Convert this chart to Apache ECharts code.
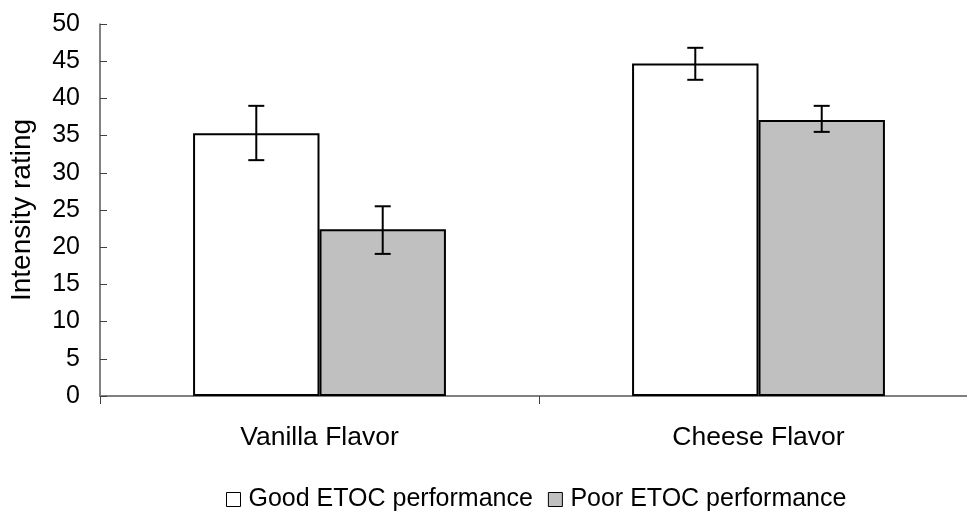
<!DOCTYPE html>
<html>
<head>
<meta charset="utf-8">
<script src="https://cdn.jsdelivr.net/npm/echarts@6/dist/echarts.min.js"></script>
<style>
html,body{margin:0;padding:0;background:#fff;}
#chart{width:967px;height:516px;}
</style>
</head>
<body>
<div id="chart"></div>
<script>
var categories = ['Vanilla Flavor', 'Cheese Flavor'];
var seriesNames = ['Good ETOC performance', 'Poor ETOC performance'];
var goodValues = [35.3, 44.7];
var poorValues = [22.4, 37.1];
var goodErrLow = [31.7, 42.5];
var goodErrHigh = [39.0, 46.8];
var poorErrLow = [19.1, 35.5];
var poorErrHigh = [25.5, 39.0];
var yTicks = [0, 5, 10, 15, 20, 25, 30, 35, 40, 45, 50];

var barCategoryGap = 0.424;
var errData = [];
for (var i = 0; i < categories.length; i++) {
  errData.push([i, goodErrLow[i], goodErrHigh[i], 0]);
  errData.push([i, poorErrLow[i], poorErrHigh[i], 1]);
}

var chart = echarts.init(document.getElementById('chart'), null, {renderer: 'canvas'});
var font = 'Liberation Sans, Arial, sans-serif';
chart.setOption({
  animation: false,
  backgroundColor: '#ffffff',
  grid: {left: 100, width: 878, top: 24, height: 372, containLabel: false, outerBoundsMode: 'none'},
  legend: {
    data: seriesNames,
    top: 482,
    left: 221,
    icon: 'rect',
    itemWidth: 14,
    itemHeight: 14,
    itemGap: 15,
    textStyle: {fontFamily: font, fontSize: 25, color: '#000', padding: [0, 0, 0, 3]},
    itemStyle: {borderWidth: 1, borderColor: '#000'}
  },
  xAxis: {
    type: 'category',
    data: categories,
    boundaryGap: true,
    axisLine: {show: true, lineStyle: {color: '#808080', width: 2}},
    axisTick: {show: true, alignWithLabel: false, length: 8, lineStyle: {color: '#404040', width: 1}},
    axisLabel: {fontFamily: font, fontSize: 26.5, color: '#000', margin: 28},
    splitLine: {show: false}
  },
  yAxis: {
    type: 'value',
    min: yTicks[0],
    max: yTicks[yTicks.length - 1],
    interval: 5,
    name: 'Intensity rating',
    nameLocation: 'middle',
    nameGap: 64,
    nameTextStyle: {fontFamily: font, fontSize: 28, color: '#000'},
    axisLine: {show: true, lineStyle: {color: '#595959', width: 1.5}},
    axisTick: {show: true, inside: true, length: 7, lineStyle: {color: '#404040', width: 1}},
    axisLabel: {fontFamily: font, fontSize: 25, color: '#000', margin: 20},
    splitLine: {show: false}
  },
  series: [
    {
      name: seriesNames[0],
      type: 'bar',
      data: goodValues,
      barGap: '0%',
      barCategoryGap: (barCategoryGap * 100) + '%',
      itemStyle: {color: '#ffffff', borderColor: '#000', borderWidth: 2}
    },
    {
      name: seriesNames[1],
      type: 'bar',
      data: poorValues,
      barGap: '0%',
      barCategoryGap: (barCategoryGap * 100) + '%',
      itemStyle: {color: '#c0c0c0', borderColor: '#000', borderWidth: 2}
    },
    {
      type: 'custom',
      name: 'err',
      data: errData,
      z: 10,
      encode: {x: 0, y: [1, 2]},
      renderItem: function (params, api) {
        var cat = api.value(0);
        var lo = api.coord([cat, api.value(1)]);
        var hi = api.coord([cat, api.value(2)]);
        var bandW = api.size([1, 0])[0];
        var bw = bandW * (1 - barCategoryGap) / 2;
        var off = (api.value(3) === 0 ? -0.5 : 0.5) * bw;
        var x = lo[0] + off;
        var cap = 8;
        var st = {stroke: '#000', lineWidth: 2};
        return {
          type: 'group',
          children: [
            {type: 'line', shape: {x1: x, y1: hi[1], x2: x, y2: lo[1]}, style: st},
            {type: 'line', shape: {x1: x - cap, y1: hi[1], x2: x + cap, y2: hi[1]}, style: st},
            {type: 'line', shape: {x1: x - cap, y1: lo[1], x2: x + cap, y2: lo[1]}, style: st}
          ]
        };
      }
    }
  ]
});
</script>
</body>
</html>
